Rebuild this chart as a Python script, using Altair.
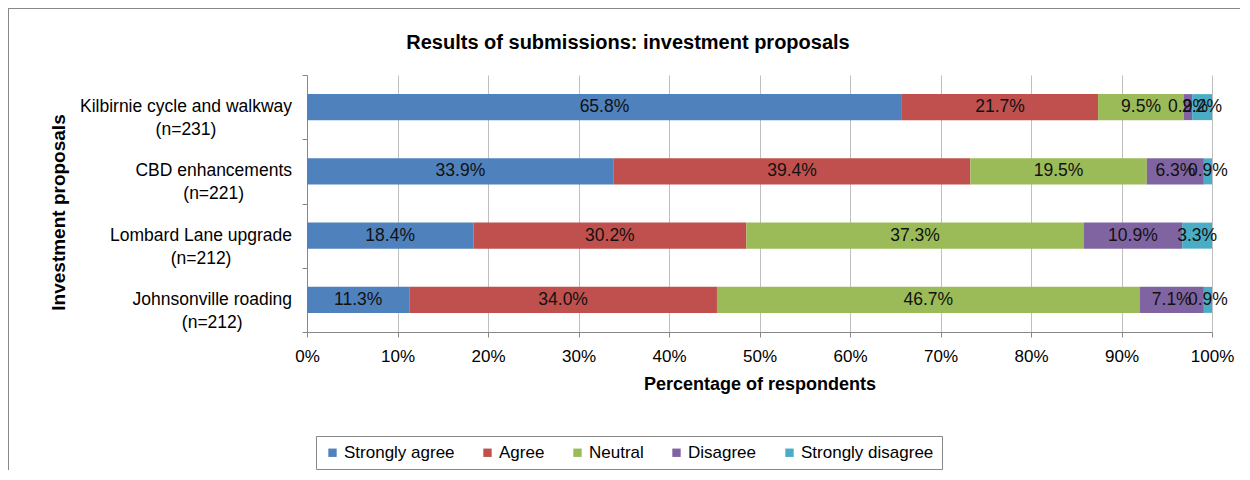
import altair as alt
import pandas as pd

proposals = ["Kilbirnie cycle and walkway", "CBD enhancements",
             "Lombard Lane upgrade", "Johnsonville roading"]
sample_sizes = [231, 221, 212, 212]
responses = ["Strongly agree", "Agree", "Neutral", "Disagree", "Strongly disagree"]
strongly_agree = [65.8, 33.9, 18.4, 11.3]
agree = [21.7, 39.4, 30.2, 34.0]
neutral = [9.5, 19.5, 37.3, 46.7]
disagree = [0.9, 6.3, 10.9, 7.1]
strongly_disagree = [2.2, 0.9, 3.3, 0.9]
colors = ["#4F81BD", "#C0504D", "#9BBB59", "#8064A2", "#4BACC6"]
chart_title = "Results of submissions: investment proposals"

series = [strongly_agree, agree, neutral, disagree, strongly_disagree]
rows = []
for i, p in enumerate(proposals):
    for j, r in enumerate(responses):
        rows.append({"proposal": p, "response": r, "value": series[j][i], "order": j})
df = pd.DataFrame(rows)

FONT = "Liberation Sans"
CAT_FS = 17.5

# Arial/Liberation Sans advance widths (per 1000 em) for measuring category labels
W = {' ': 278, '(': 333, ')': 333, '=': 584, 'a': 556, 'b': 556, 'c': 500, 'd': 556,
     'e': 556, 'g': 556, 'h': 556, 'i': 222, 'k': 500, 'l': 222, 'm': 833, 'n': 556,
     'o': 556, 'p': 556, 'r': 333, 's': 500, 't': 278, 'u': 556, 'v': 500, 'w': 722,
     'y': 500, 'B': 667, 'C': 722, 'D': 722, 'J': 500, 'K': 667, 'L': 556}


def text_width(s, size):
    return sum(W.get(ch, 556) for ch in s) * size / 1000.0


cat_rows = []
for p, n in zip(proposals, sample_sizes):
    line2 = f"(n={n})"
    w = max(text_width(p, CAT_FS), text_width(line2, CAT_FS))
    cat_rows.append({"proposal": p, "txt": p + "|" + line2, "lx": -15 - w / 2})
cat_df = pd.DataFrame(cat_rows)

y_enc = alt.Y("proposal:N", sort=proposals,
              scale=alt.Scale(paddingInner=0, paddingOuter=0),
              axis=alt.Axis(title="Investment proposals", labels=False, tickBand="extent",
                            tickSize=5, tickColor="#888888", domainColor="#888888",
                            titleFont=FONT, titleFontSize=19, titleFontWeight="bold",
                            titleColor="#000000", titleAngle=270, titleX=-243, titleY=137,
                            titleAlign="center", titleBaseline="alphabetic", grid=False))

base = alt.Chart(df).transform_stack(
    stack="value", groupby=["proposal"], as_=["x0", "x1"], offset="normalize",
    sort=[alt.SortField("order", order="ascending")]
).transform_calculate(
    mid="(datum.x0 + datum.x1) / 2",
    label="format(datum.value, '.1f') + '%'"
)

bars = base.mark_bar(height=alt.RelativeBandSize(0.405)).encode(
    y=y_enc,
    x=alt.X("x0:Q", scale=alt.Scale(domain=[0, 1], nice=False),
            axis=alt.Axis(title="Percentage of respondents", format=".0%",
                          values=[i / 10 for i in range(11)],
                          labelOverlap=False, labelFlush=False,
                          labelFont=FONT, labelFontSize=17, labelColor="#000000",
                          labelPadding=11, tickSize=5, tickColor="#888888",
                          domainColor="#888888", gridColor="#BFBFBF",
                          titleFont=FONT, titleFontSize=18, titleFontWeight="bold",
                          titleColor="#000000", titlePadding=11)),
    x2="x1:Q",
    color=alt.Color("response:N", scale=alt.Scale(domain=responses, range=colors),
                    legend=alt.Legend(orient="none", legendX=9, legendY=361,
                                      direction="horizontal", columns=5, title=None,
                                      symbolType="square", symbolSize=70,
                                      symbolStrokeWidth=0, labelFont=FONT,
                                      labelFontSize=17, labelColor="#000000",
                                      labelOffset=3, columnPadding=24, padding=8,
                                      strokeColor="#888888")),
)

bar_labels = base.mark_text(font=FONT, fontSize=17.5, color="#111111",
                            align="center", baseline="middle").encode(
    y=alt.Y("proposal:N", sort=proposals),
    x=alt.X("mid:Q"),
    text="label:N",
)

cat_labels = alt.Chart(cat_df).mark_text(
    font=FONT, fontSize=CAT_FS, color="#000000", align="center", baseline="middle",
    lineBreak="|", lineHeight=23
).encode(
    y=alt.Y("proposal:N", sort=proposals),
    x=alt.X("lx:Q", scale=None, axis=None),
    text="txt:N",
)

frame = alt.Chart(cat_df).mark_rect(fill=None, stroke="#888888", strokeWidth=2).encode(
    x=alt.value(-299), x2=alt.value(960), y=alt.value(-67), y2=alt.value(420)
).transform_filter(alt.datum.proposal == proposals[0])

title = alt.Chart(pd.DataFrame({"t": [chart_title]})).mark_text(
    font=FONT, fontSize=20, fontWeight="bold", color="#000000",
    align="center", baseline="alphabetic"
).encode(x=alt.value(321), y=alt.value(-26), text="t:N")

chart = alt.layer(frame, bars, bar_labels, cat_labels, title).properties(
    width=905, height=257,
    autosize=alt.AutoSizeParams(type="none"),
    padding={"left": 299, "top": 67, "right": 28, "bottom": 138},
).configure_view(stroke=None).configure_axis(gridColor="#BFBFBF")

chart.save("out.html", embed_options={"renderer": "svg", "actions": False})
